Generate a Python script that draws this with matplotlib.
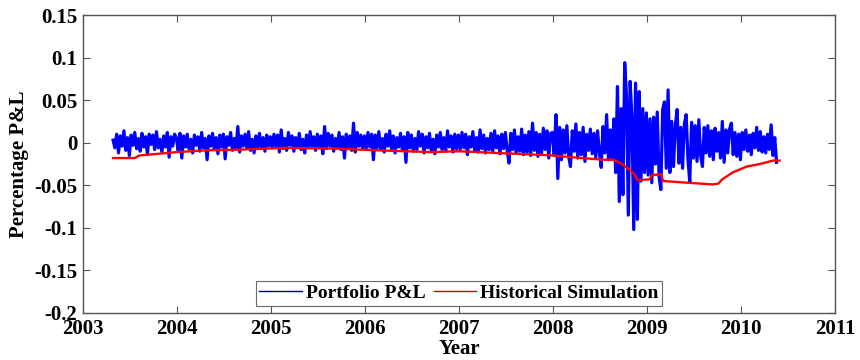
import numpy as np
import matplotlib
matplotlib.use("Agg")
import matplotlib.pyplot as plt
from matplotlib.ticker import FixedLocator, FuncFormatter

# ---------------- data ----------------
# Portfolio P&L, roughly weekly samples, values in units of 0.001
start_year = 2003.32
pl_2003 = [3, -6, 10, -12, 8, -4, 14, -9, 6, -15, 9, -3, 12, -7, 5, -10, 11, -5, 7, -14,
           10, -2, 9, -8, 13, -6, 4, -11, 8, -5, 12, -17, 7, -4, 10]
pl_2004 = [6, -9, 11, -18, 8, -5, 10, -7, 4, -12, 9, -3, 7, -10, 12, -6, 5, -20, 8, -4,
           11, -8, 6, -13, 9, -5, 10, -19, 7, -3, 12, -9, 5, -7, 19, -11, 8, -4, 10, -6,
           13, -9, 4, -12, 8, -5, 11, -7, 6, -10, 9, -4]
pl_2005 = [7, -6, 10, -4, 9, -11, 15, -7, 5, -9, 12, -3, 8, -10, 6, -5, 11, -8, 4, -12,
           9, -6, 13, -4, 7, -9, 10, -5, 8, -13, 19, -7, 11, -4, 9, -10, 5, -6, 12, -8,
           7, -18, 10, -5, 8, -9, 23, -11, 12, -4, 9, -7]
pl_2006 = [8, -7, 12, -5, 10, -20, 9, -6, 13, -8, 5, -11, 10, -4, 14, -7, 8, -12, 6, -5,
           11, -9, 7, -23, 12, -6, 9, -10, 5, -8, 13, -4, 10, -12, 7, -6, 11, -9, 4, -13,
           9, -5, 12, -8, 6, -10, 14, -5, 8, -11, 10, -7]
pl_2007 = [9, -8, 12, -6, 10, -14, 7, -5, 13, -9, 6, -11, 15, -7, 9, -12, 5, -8, 11, -10,
           14, -6, 8, -13, 10, -7, 12, -9, -24, 11, -8, 15, -12, 7, -10, 16, -14, 9, -11, 13,
           -15, 23, -9, 12, -16, 10, -13, 17, -8, 14, -18, 11]
pl_2008 = [12, -15, 33, -42, 18, -20, 15, -12, 20, -16, -28, 14, -10, 22, -18, 12, -14, 18, -22, 10,
           -9, 16, -13, 11, -17, 14, -11, -29, 19, -12, 33, -20, 15, -18, 28, -35, 66, -69, 40, -61,
           94, 55, -85, 72, 30, -102, 70, -90, 60, -45, 40, -35]
pl_2009 = [35, -38, 28, -47, 30, -25, 36, -40, -55, 39, 48, -30, 62, -35, 25, -28, 20, 39, -24, 18,
           -30, 22, 33, -20, -46, 24, -18, 20, -22, 27, -15, -28, 18, -12, 20, -16, 14, -20, 17, -10,
           12, -18, 25, -23, 15, -12, 16, 23, -14, 12, -16, 10]
pl_2010 = [-20, 12, -8, 15, -10, 9, -14, 11, -6, 18, -9, 13, -11, 7, -12, 10, -8, 21, -15, 6, -23]

# Historical Simulation VaR
var_dates = [2003.32, 2003.55, 2003.60, 2003.80, 2004.0, 2004.3, 2004.7, 2005.15, 2005.7, 2006.15,
             2006.7, 2007.0, 2007.6, 2008.0, 2008.3, 2008.55, 2008.64, 2008.70, 2008.77, 2008.85,
             2008.90, 2009.03, 2009.05, 2009.15, 2009.17, 2009.43, 2009.70, 2009.76, 2009.80, 2009.91,
             2010.06, 2010.20, 2010.34, 2010.41]
var_values = [-0.018, -0.018, -0.015, -0.013, -0.011, -0.009, -0.008, -0.006, -0.007, -0.009,
              -0.011, -0.010, -0.013, -0.015, -0.018, -0.020, -0.020, -0.023, -0.028, -0.035,
              -0.044, -0.043, -0.038, -0.037, -0.045, -0.047, -0.049, -0.048, -0.043, -0.035,
              -0.028, -0.025, -0.021, -0.021]

x_ticks = [2003, 2004, 2005, 2006, 2007, 2008, 2009, 2010, 2011]
y_ticks = [-0.2, -0.15, -0.1, -0.05, 0, 0.05, 0.1, 0.15]

# ---------------- plot ----------------
pl = np.concatenate([pl_2003, pl_2004, pl_2005, pl_2006, pl_2007, pl_2008, pl_2009, pl_2010]) / 1000.0
t = start_year + np.arange(len(pl)) / 52.0

plt.rcParams['font.family'] = ['Liberation Serif', 'DejaVu Serif']
plt.rcParams['font.weight'] = 'bold'

fig = plt.figure(figsize=(8.6, 3.6), dpi=100)
ax = fig.add_axes([0.0965, 0.1306, 0.8745, 0.8277])

ax.plot(t, pl, color='#0000ff', lw=2.3, label='Portfolio P&L')
ax.plot(var_dates, var_values, color='#ff0000', lw=1.7, label='Historical Simulation')

ax.set_xlim(2003, 2011)
ax.set_ylim(-0.2, 0.15)
ax.xaxis.set_major_locator(FixedLocator(x_ticks))
ax.yaxis.set_major_locator(FixedLocator(y_ticks))

def yfmt(v, pos):
    s = ('%.2f' % v).rstrip('0').rstrip('.')
    return '0' if s in ('-0', '0') else s

ax.yaxis.set_major_formatter(FuncFormatter(yfmt))
ax.xaxis.set_major_formatter(FuncFormatter(lambda v, p: '%d' % v))

ax.tick_params(direction='in', length=5, width=0.8, color='#555555',
               top=True, right=True, labelsize=15, pad=4)
for lab in ax.get_xticklabels() + ax.get_yticklabels():
    lab.set_fontweight('bold')
for sp in ax.spines.values():
    sp.set_color('#555555')
    sp.set_linewidth(1.0)

ax.set_xlabel('Year', fontsize=15, fontweight='bold', labelpad=0)
ax.set_ylabel('Percentage P&L', fontsize=15, fontweight='bold', labelpad=4)

leg = ax.legend(loc='lower center', ncol=2, frameon=True, fancybox=False,
                edgecolor='#444444', borderaxespad=0.35, handlelength=2.2,
                handletextpad=0.2, columnspacing=0.4, borderpad=0.2,
                prop={'weight': 'bold', 'size': 14})
leg.get_frame().set_linewidth(0.8)
for h, c in zip(leg.get_lines(), ['#000080', '#cc0000']):
    h.set_linewidth(1.0)
    h.set_color(c)

fig.savefig('out.png', dpi=100, facecolor='white')
